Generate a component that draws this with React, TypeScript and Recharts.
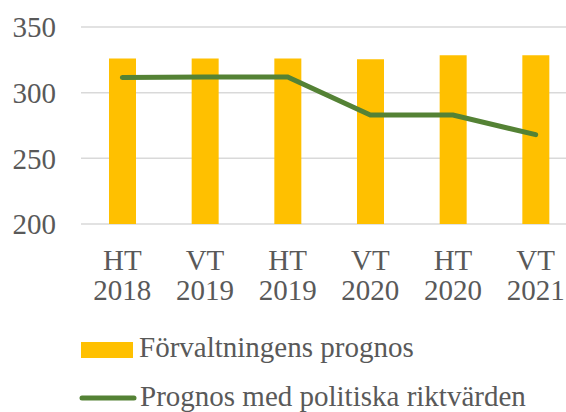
import { Bar, CartesianGrid, ComposedChart, Legend, Line, XAxis, YAxis } from "recharts";

const periods = ["HT 2018", "VT 2019", "HT 2019", "VT 2020", "HT 2020", "VT 2021"];
const forvaltningensPrognos = [326, 326, 326, 325.5, 328.5, 328.5];
const politiskaRiktvarden = [311.5, 312, 312, 283, 283, 268];
const yTicks = [200, 250, 300, 350];

const data = periods.map((period, i) => ({
  period,
  prognos: forvaltningensPrognos[i],
  politisk: politiskaRiktvarden[i],
}));

const FONT = "'Liberation Serif', 'Times New Roman', serif";
const TEXT = "#595959";
const YELLOW = "#FFC000";
const GREEN = "#548235";
const FS = 29;

function PeriodTick({ x, y, payload }: any) {
  const [term, year] = String(payload.value).split(" ");
  return (
    <text x={x} y={y} textAnchor="middle" fill={TEXT} fontSize={FS} fontFamily={FONT}>
      <tspan x={x} dy={38}>{term}</tspan>
      <tspan x={x} dy={30}>{year}</tspan>
    </text>
  );
}

function renderLegend() {
  return (
    <svg width={566} height={412} style={{ display: "block" }}>
      <rect x={81} y={342} width={52} height={16} fill={YELLOW} />
      <text x={139} y={357} fill={TEXT} fontSize={FS} fontFamily={FONT}>
        Förvaltningens prognos
      </text>
      <line x1={82} y1={398} x2={134} y2={398} stroke={GREEN} strokeWidth={5} strokeLinecap="round" />
      <text x={140} y={406} fill={TEXT} fontSize={FS} fontFamily={FONT}>
        Prognos med politiska riktvärden
      </text>
    </svg>
  );
}

export default function App() {
  return (
    <div
      style={{
        position: "absolute",
        left: 0,
        top: 0,
        width: 566,
        height: 412,
        overflow: "hidden",
        background: "#fff",
      }}
    >
      <ComposedChart
        width={577}
        height={412}
        data={data}
        margin={{ top: 27, right: 0, bottom: 0, left: 0 }}
        barSize={27}
      >
        <CartesianGrid vertical={false} stroke="#D9D9D9" strokeWidth={1.5} />
        <XAxis
          dataKey="period"
          height={188}
          axisLine={false}
          tickLine={false}
          interval={0}
          tick={<PeriodTick />}
        />
        <YAxis
          width={81}
          domain={[200, 350]}
          ticks={yTicks}
          axisLine={false}
          tickLine={false}
          tickMargin={19}
          tick={{ fill: TEXT, fontSize: FS, fontFamily: FONT }}
        />
        <Legend
          content={renderLegend}
          layout="vertical"
          align="center"
          verticalAlign="middle"
          wrapperStyle={{ left: 0, top: 0, width: 566, height: 412 }}
        />
        <Bar dataKey="prognos" fill={YELLOW} isAnimationActive={false} />
        <Line
          dataKey="politisk"
          stroke={GREEN}
          strokeWidth={5}
          strokeLinecap="round"
          dot={false}
          activeDot={false}
          isAnimationActive={false}
        />
      </ComposedChart>
    </div>
  );
}
